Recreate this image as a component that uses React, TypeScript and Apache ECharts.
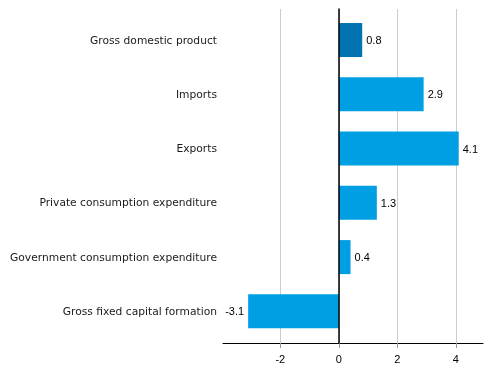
import React, { useEffect, useRef } from "react";
import * as echarts from "echarts";

const categories = [
  "Gross domestic product",
  "Imports",
  "Exports",
  "Private consumption expenditure",
  "Government consumption expenditure",
  "Gross fixed capital formation",
];
const values = [0.8, 2.9, 4.1, 1.3, 0.4, -3.1];
const highlightIndex = 0;
const xTicks = [-2, 0, 2, 4];
const xMin = -3.96;
const xMax = 4.93;

const DARK = "#0073b0";
const LIGHT = "#009fe3";

export default function App() {
  const ref = useRef<HTMLDivElement>(null);
  useEffect(() => {
    if (!ref.current) return;
    const chart = echarts.init(ref.current, undefined, { renderer: "svg" });
    chart.setOption({
      animation: false,
      grid: [
        { left: 223, right: 8, top: 12.9, height: 325.6, containLabel: false },
        { left: 223, right: 8, top: 9, height: 334, containLabel: false },
      ],
      xAxis: [
        {
          gridIndex: 0,
          type: "value",
          min: xMin,
          max: xMax,
          show: false,
        },
        {
          gridIndex: 1,
          type: "value",
          min: xMin,
          max: xMax,
          axisLine: { show: true, onZero: false, lineStyle: { color: "#000", width: 1 } },
          axisTick: {
            show: true,
            customValues: xTicks,
            length: 5,
            lineStyle: { color: "#999" },
          },
          axisLabel: {
            customValues: xTicks,
            margin: 10,
            color: "#000",
            fontFamily: "Liberation Sans, Arial, sans-serif",
            fontSize: 11,
          },
          splitLine: { show: true, lineStyle: { color: "#cccccc", width: 1 } },
        },
      ],
      yAxis: [
        {
          gridIndex: 0,
          type: "category",
          data: categories,
          inverse: true,
          axisLine: { show: false },
          axisTick: { show: false },
          splitLine: { show: false },
          axisLabel: {
            margin: 6,
            color: "#1a1a1a",
            fontFamily: "DejaVu Sans, sans-serif",
            fontSize: 10.7,
          },
        },
        {
          gridIndex: 1,
          type: "value",
          min: 0,
          max: 1,
          z: 5,
          axisLine: { show: true, onZero: true, lineStyle: { color: "#000", width: 1.5 } },
          axisTick: { show: false },
          axisLabel: { show: false },
          splitLine: { show: false },
        },
      ],
      series: [
        {
          type: "bar",
          xAxisIndex: 0,
          yAxisIndex: 0,
          barWidth: 34,
          data: values.map((v, i) => ({
            value: v,
            itemStyle: { color: i === highlightIndex ? DARK : LIGHT },
            label: { position: v < 0 ? "left" : "right" },
          })),
          label: {
            show: true,
            distance: 4,
            color: "#000",
            fontFamily: "Liberation Sans, Arial, sans-serif",
            fontSize: 11,
            formatter: (p: any) => Number(p.value).toFixed(1),
          },
        },
      ],
    });
    return () => chart.dispose();
  }, []);
  return (
    <div
      ref={ref}
      style={{ position: "fixed", left: 0, top: 0, width: 491, height: 378 }}
    />
  );
}
